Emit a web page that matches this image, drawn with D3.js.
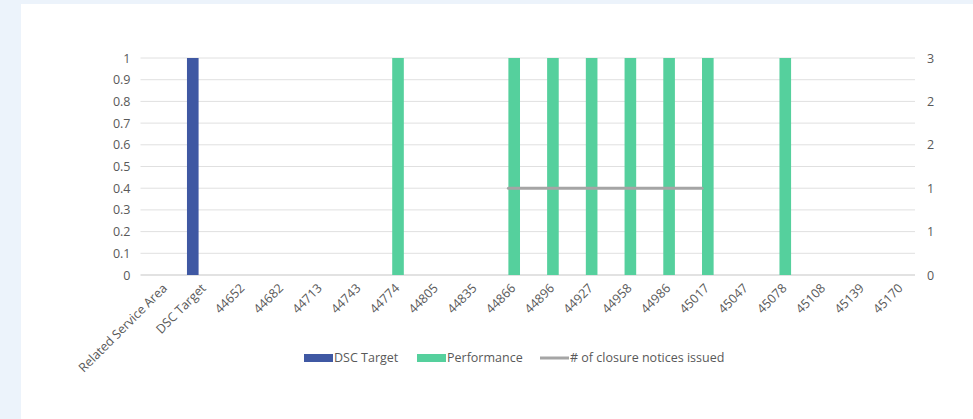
<!DOCTYPE html>
<html><head><meta charset="utf-8">
<script src="https://cdn.jsdelivr.net/npm/d3@7"></script>
<style>
html,body{margin:0;padding:0;background:#ecf3fb;}
svg{display:block;}
text{font-family:"Open Sans",Lato,sans-serif;fill:#595959;}
</style></head><body>
<script>
const categories = ["Related Service Area","DSC Target","44652","44682","44713","44743","44774","44805","44835","44866","44896","44927","44958","44986","45017","45047","45078","45108","45139","45170"];
const dscTarget = [null,1,null,null,null,null,null,null,null,null,null,null,null,null,null,null,null,null,null,null];
const performance = [null,null,null,null,null,null,1,null,null,1,1,1,1,1,1,null,1,null,null,null];
const closureNotices = [null,null,null,null,null,null,null,null,null,1,1,1,1,1,1,null,null,null,null,null];
const leftTicks = [0,0.1,0.2,0.3,0.4,0.5,0.6,0.7,0.8,0.9,1];
const rightTicks = [0,0.5,1,1.5,2,2.5];
const seriesNames = ["DSC Target","Performance","# of closure notices issued"];
const colors = ["#3f58a3","#55d09d","#a5a5a5"];

(function(){
const W = 973, H = 419;
const svg = d3.select("body").append("svg").attr("width",W).attr("height",H);
svg.append("rect").attr("x",21).attr("y",4).attr("width",W-21).attr("height",H-4).attr("fill","#fff");

const pL = 140.5, pR = 915, pT = 58, pB = 275;
const x = d3.scaleBand().domain(categories).range([pL,pR]).padding(0);
const bw = x.bandwidth();
const x1 = d3.scaleBand().domain(["DSC Target","Performance"]).range([bw*0.2, bw*0.8]);
const y = d3.scaleLinear().domain([0,1]).range([pB,pT]);
const y2 = d3.scaleLinear().domain([0,2.5]).range([pB,pT]);

svg.append("g").selectAll("line").data(leftTicks).join("line")
  .attr("x1",pL).attr("x2",pR)
  .attr("y1",d=>y(d)).attr("y2",d=>y(d))
  .attr("stroke",d=>d===0?"#d9d9d9":"#e0e0e0").attr("stroke-width",d=>d===0?1.5:1);

const la = svg.append("g").attr("transform",`translate(${pL},0)`)
  .call(d3.axisLeft(y).tickValues(leftTicks).tickSize(0).tickPadding(10).tickFormat(d3.format("~g")));
la.select(".domain").remove();
la.selectAll("text").attr("font-size",12.5).style("fill","#595959");

const ra = svg.append("g").attr("transform",`translate(${pR},0)`)
  .call(d3.axisRight(y2).tickValues(rightTicks).tickSize(0).tickPadding(12).tickFormat(d=>String(Math.round(d+1e-9))));
ra.select(".domain").remove();
ra.selectAll("text").attr("font-size",12.5).style("fill","#595959");

const xa = svg.append("g").attr("transform",`translate(0,${pB})`)
  .call(d3.axisBottom(x).tickSize(0).tickPadding(0));
xa.select(".domain").remove();
xa.selectAll("text")
  .attr("font-size",12.5).style("fill","#595959")
  .attr("text-anchor","end").attr("dy",0).attr("y",0)
  .attr("transform","translate(8,14) rotate(-45)");

svg.append("g").selectAll("rect").data(dscTarget.map((v,i)=>({v,c:categories[i]})).filter(d=>d.v!=null)).join("rect")
  .attr("x",d=>x(d.c)+x1("DSC Target")).attr("width",x1.bandwidth())
  .attr("y",d=>y(d.v)).attr("height",d=>y(0)-y(d.v)).attr("fill",colors[0]);
svg.append("g").selectAll("rect").data(performance.map((v,i)=>({v,c:categories[i]})).filter(d=>d.v!=null)).join("rect")
  .attr("x",d=>x(d.c)+x1("Performance")).attr("width",x1.bandwidth())
  .attr("y",d=>y(d.v)).attr("height",d=>y(0)-y(d.v)).attr("fill",colors[1]);

const line = d3.line().defined(d=>d.v!=null).x(d=>x(d.c)+bw/2).y(d=>y2(d.v));
svg.append("path").datum(closureNotices.map((v,i)=>({v,c:categories[i]})))
  .attr("d",line).attr("fill","none").attr("stroke",colors[2]).attr("stroke-width",3).attr("stroke-linecap","round");

const legendX = [304,417,540];
seriesNames.forEach((s,i)=>{
  const g = svg.append("g").attr("transform",`translate(${legendX[i]},358)`);
  if(i<2) g.append("rect").attr("x",0).attr("y",-4).attr("width",29).attr("height",8).attr("fill",colors[i]);
  else g.append("line").attr("x1",0).attr("x2",29).attr("y1",0).attr("y2",0).attr("stroke",colors[i]).attr("stroke-width",3);
  g.append("text").attr("x",30).attr("y",0).attr("dy","0.35em").attr("font-size",12.5).text(s);
});
})();
</script>
</body></html>
